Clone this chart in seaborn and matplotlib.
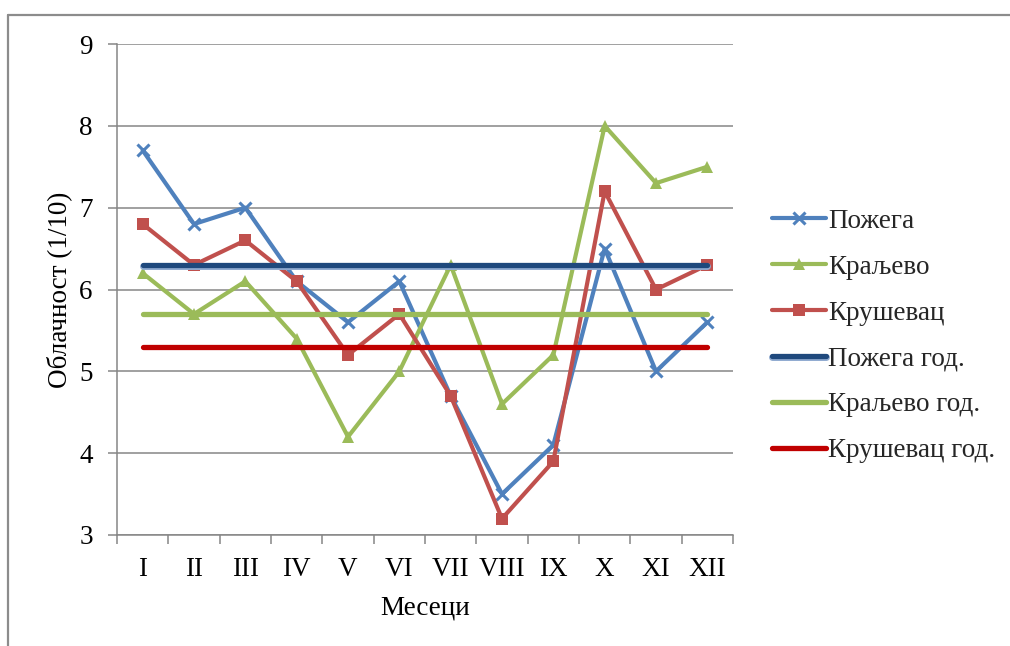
import matplotlib
matplotlib.use("Agg")
import matplotlib.pyplot as plt
import matplotlib.patheffects as pe
from matplotlib.lines import Line2D
import numpy as np
import pandas as pd
import seaborn as sns

# Monthly cloudiness (tenths of sky) for three stations
months = ["I", "II", "III", "IV", "V", "VI", "VII", "VIII", "IX", "X", "XI", "XII"]
pozega = [7.7, 6.8, 7.0, 6.1, 5.6, 6.1, 4.7, 3.5, 4.1, 6.5, 5.0, 5.6]
kraljevo = [6.2, 5.7, 6.1, 5.4, 4.2, 5.0, 6.3, 4.6, 5.2, 8.0, 7.3, 7.5]
krusevac = [6.8, 6.3, 6.6, 6.1, 5.2, 5.7, 4.7, 3.2, 3.9, 7.2, 6.0, 6.3]

# Annual means
pozega_year = 6.3
kraljevo_year = 5.7
krusevac_year = 5.3

series_names = ["Пожега", "Краљево", "Крушевац"]
annual_names = ["Пожега год.", "Краљево год.", "Крушевац год."]

sns.set_theme(style="white")
plt.rcParams["font.family"] = ["Liberation Serif", "DejaVu Serif"]
FS = 19.5

fig = plt.figure(figsize=(10.10, 6.46), dpi=100)
ax = fig.add_axes([117 / 1010, 1 - 535 / 646, 616 / 1010, 491 / 646])

pos = np.arange(len(months))
df = pd.DataFrame({"pos": pos, "Пожега": pozega, "Краљево": kraljevo, "Крушевац": krusevac,
                   "Пожега год.": [pozega_year] * len(months),
                   "Краљево год.": [kraljevo_year] * len(months),
                   "Крушевац год.": [krusevac_year] * len(months)})

styles = {
    "Пожега": dict(color="#4F81BD", marker="x", markersize=9, markeredgewidth=2.2),
    "Краљево": dict(color="#9BBB59", marker="^", markersize=9, markeredgewidth=0),
    "Крушевац": dict(color="#C0504D", marker="s", markersize=8, markeredgewidth=0),
}
for name in series_names:
    st = styles[name]
    sns.lineplot(data=df, x="pos", y=name, ax=ax, color=st["color"], linewidth=3.0,
                 marker=st["marker"], markersize=st["markersize"],
                 markeredgewidth=st["markeredgewidth"], markeredgecolor=st["color"],
                 label=name, solid_capstyle="round", zorder=3)

annual_colors = {"Пожега год.": "#1F497D", "Краљево год.": "#9BBB59", "Крушевац год.": "#C00000"}
for name in annual_names:
    sns.lineplot(data=df, x="pos", y=name, ax=ax, color=annual_colors[name], linewidth=3.8,
                 label=name, solid_capstyle="round", zorder=4)

# light bevel under the dark-blue annual line
ax.lines[3].set_path_effects([pe.Stroke(linewidth=5.0, foreground="#8FAAD0",
                                        offset=(0, -0.6)), pe.Normal()])

ax.set_xlim(-0.5, len(months) - 0.5)
ax.set_ylim(3, 9)
ax.set_yticks(range(3, 10))
ax.set_xticks(pos)
ax.set_xticklabels(months)
ax.set_xticks(np.arange(-0.5, len(months), 1.0), minor=True)

grid_c = "#868686"
ax.yaxis.grid(True, color=grid_c, linewidth=1.1)
ax.xaxis.grid(False)
ax.set_axisbelow(True)
for s in ["top", "right"]:
    ax.spines[s].set_visible(False)
for s in ["left", "bottom"]:
    ax.spines[s].set_color(grid_c)
    ax.spines[s].set_linewidth(1.1)

ax.tick_params(axis="y", which="major", left=True, length=6.5, width=1.1, color=grid_c,
               pad=11, labelsize=FS, labelcolor="black")
ax.tick_params(axis="x", which="major", bottom=False, length=0, pad=16, labelsize=FS,
               labelcolor="black")
ax.tick_params(axis="x", which="minor", bottom=True, length=6.5, width=1.1, color=grid_c)

ax.set_xlabel("Месеци", fontsize=FS, color="black")
ax.set_ylabel("Облачност (1/10)", fontsize=FS, color="black")
ax.xaxis.set_label_coords(0.5, -0.123)
ax.yaxis.set_label_coords(-0.073, 0.5)

handles, labels = ax.get_legend_handles_labels()
ax.get_legend().remove()
fig.legend(handles, labels, loc="center left", bbox_to_anchor=(772 / 1010, 1 - 336 / 646),
           bbox_transform=fig.transFigure, frameon=False, fontsize=FS, borderpad=0,
           borderaxespad=0, handlelength=2.0, handletextpad=0.08, labelspacing=0.77)

# outer chart frame
frame_c = "#8C8C8C"
fig.add_artist(Line2D([8 / 1010, 1.0], [1 - 15 / 646, 1 - 15 / 646], color=frame_c,
                      linewidth=1.6, transform=fig.transFigure))
fig.add_artist(Line2D([8 / 1010, 8 / 1010], [0.0, 1 - 15 / 646], color=frame_c,
                      linewidth=1.6, transform=fig.transFigure))

fig.savefig("out.png", dpi=100, facecolor="white")
